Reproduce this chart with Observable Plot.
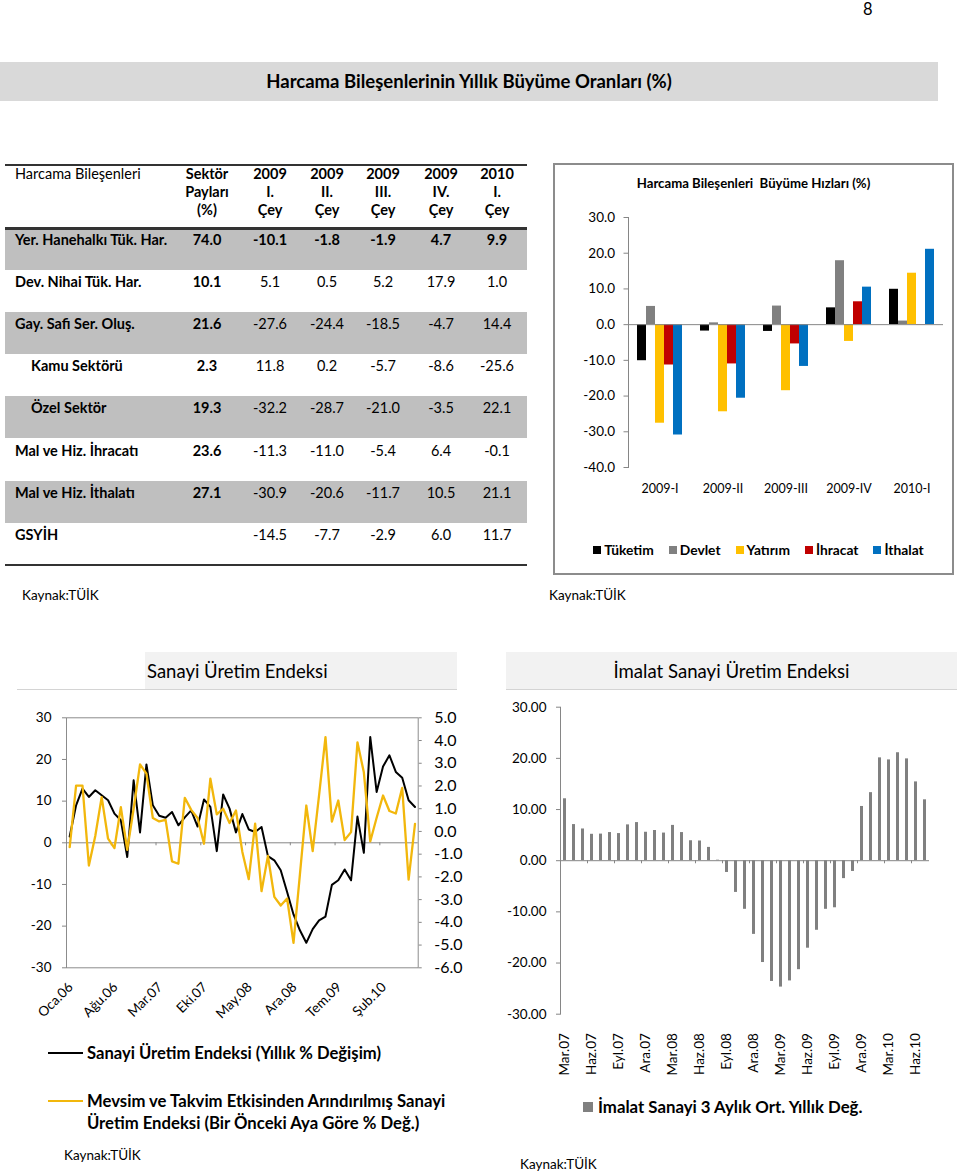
<!DOCTYPE html>
<html><head><meta charset="utf-8">
<script src="https://cdn.jsdelivr.net/npm/d3@7"></script>
<script src="https://cdn.jsdelivr.net/npm/@observablehq/plot@0.6"></script>
<style>
body{margin:0;background:#fff;font-family:Lato,"Open Sans",sans-serif;color:#000}
#page{position:relative;width:960px;height:1173px;overflow:hidden;background:#fff}
.a{position:absolute;white-space:nowrap}
svg{overflow:visible}
</style></head><body><div id="page"></div>
<script>
// ---------------- DATA ----------------
const rowLabels = ["Yer. Hanehalkı Tük. Har.","Dev. Nihai Tük. Har.","Gay. Safi Ser. Oluş.","Kamu Sektörü","Özel Sektör","Mal ve Hiz. İhracatı","Mal ve Hiz. İthalatı","GSYİH"];
const rowIndent = [0,0,0,1,1,0,0,0];
const sektorPaylari = [74.0,10.1,21.6,2.3,19.3,23.6,27.1,null];
const q2009_1 = [-10.1,5.1,-27.6,11.8,-32.2,-11.3,-30.9,-14.5];
const q2009_2 = [-1.8,0.5,-24.4,0.2,-28.7,-11.0,-20.6,-7.7];
const q2009_3 = [-1.9,5.2,-18.5,-5.7,-21.0,-5.4,-11.7,-2.9];
const q2009_4 = [4.7,17.9,-4.7,-8.6,-3.5,6.4,10.5,6.0];
const q2010_1 = [9.9,1.0,14.4,-25.6,22.1,-0.1,21.1,11.7];
const headerCols = [["Sektör","Payları","(%)"],["2009","I.","Çey"],["2009","II.","Çey"],["2009","III.","Çey"],["2009","IV.","Çey"],["2010","I.","Çey"]];

const quarters = ["2009-I","2009-II","2009-III","2009-IV","2010-I"];
const seriesNames = ["Tüketim","Devlet","Yatırım","İhracat","İthalat"];
const seriesColors = ["#000000","#808080","#FFC000","#C00000","#0070C0"];
const seriesRows = [0,1,2,5,6];

const monthAbbr = ["Oca","Şub","Mar","Nis","May","Haz","Tem","Ağu","Eyl","Eki","Kas","Ara"];
// Sanayi Üretim Endeksi, Oca.06 - Tem.10
const sanayiYillik = [1.5,9.0,13.0,11.0,12.6,11.4,10.2,7.0,5.4,-3.4,15.0,2.5,18.8,9.0,6.5,6.0,7.4,4.2,6.1,7.8,3.9,10.4,8.6,-2.0,11.6,8.2,2.5,6.9,3.2,2.6,3.8,-3.2,-4.2,-6.6,-11.8,-17.2,-21.0,-24.0,-20.7,-18.6,-17.7,-10.1,-9.0,-6.4,-9.0,6.3,-2.4,25.4,12.2,18.3,21.0,17.0,15.6,10.2,8.6];
const sanayiAylikMA = [-0.69,2.02,2.02,-1.5,-0.2,1.51,-0.32,-0.73,1.07,-0.81,1.0,2.95,2.54,0.59,0.44,0.51,-1.32,-1.42,1.48,0.95,0.59,-0.54,2.32,0.75,1.0,0.37,0.92,-0.9,-2.1,0.34,-2.63,-1.08,-2.88,-3.26,-2.95,-4.9,-1.9,1.14,-0.87,1.6,4.15,0.43,1.36,-0.38,-0.03,3.92,2.6,-0.44,0.6,1.58,0.9,0.79,1.92,-2.12,0.33];
// İmalat Sanayi 3 aylık ort. yıllık değ., Mar.07 - Tem.10
const imalat3Ay = [12.1,7.06,6.2,5.16,5.2,5.5,5.3,7.0,7.45,5.56,5.9,5.4,6.9,5.5,3.9,3.85,2.6,0.1,-2.3,-6.2,-9.5,-14.4,-19.9,-23.6,-24.7,-23.5,-21.3,-17.1,-13.6,-9.5,-9.2,-3.5,-2.1,10.6,13.3,20.1,19.7,21.1,19.9,15.4,11.9];

const sanayiMonths = d3.range(sanayiYillik.length).map(i => monthAbbr[i%12] + "." + String(6 + Math.floor(i/12)).padStart(2,"0"));
const imalatMonths = d3.range(imalat3Ay.length).map(i => monthAbbr[(i+2)%12] + "." + String(7 + Math.floor((i+2)/12)).padStart(2,"0"));

// ---------------- HELPERS ----------------
const page = document.getElementById("page");
function box(left, top, w, h, bg, extra) {
  const d = document.createElement("div");
  d.className = "a";
  Object.assign(d.style, {left: left+"px", top: top+"px", width: w+"px", height: h+"px", background: bg}, extra||{});
  page.appendChild(d); return d;
}
function txt(s, left, top, opts) {
  const d = document.createElement("div");
  d.className = "a";
  d.innerHTML = s;
  Object.assign(d.style, {left: left+"px", top: top+"px"}, opts||{});
  page.appendChild(d); return d;
}
function place(node, left, top) {
  const d = document.createElement("div");
  d.className = "a";
  Object.assign(d.style, {left: left+"px", top: top+"px"});
  d.appendChild(node); page.appendChild(d); return d;
}
const GRAY = "#868686";
const YELLOW = "#F2B70C";

// ---------------- PAGE HEADER ----------------
txt("8", 863, 1, {fontSize:"16.5px", lineHeight:"17px"});
box(0, 62, 938, 39, "#D9D9D9");
txt("Harcama Bileşenlerinin Yıllık Büyüme Oranları (%)", 0, 62, {width:"938px", textAlign:"center", lineHeight:"39px", fontSize:"18.5px", fontWeight:"700"});

// ---------------- TABLE ----------------
const colCenters = [207, 270, 327, 383, 441, 497];
const valueCols = [sektorPaylari, q2009_1, q2009_2, q2009_3, q2009_4, q2010_1];
const T0 = 228, RH = 42.1;
rowLabels.forEach((lab, r) => {
  const top = T0 + RH*r;
  if (r % 2 === 0 && r < 7) box(5, top, 522, RH, "#BFBFBF");
});
box(5, 164, 522, 2, "#333");
box(5, 227, 522, 2.5, "#333");
box(5, 564, 522, 2, "#333");
const tf = {fontSize:"14.5px", lineHeight:"18px"};
txt("Harcama Bileşenleri", 15, 165, tf);
headerCols.forEach((lines, c) => {
  txt(lines.join("<br>"), colCenters[c]-35, 165, Object.assign({width:"70px", textAlign:"center", fontWeight:"700"}, tf));
});
rowLabels.forEach((lab, r) => {
  const top = T0 + RH*r + 3;
  txt(lab, rowIndent[r] ? 31 : 15, top, Object.assign({fontWeight:"700"}, tf));
  valueCols.forEach((col, c) => {
    const v = col[r];
    if (v == null) return;
    txt(v.toFixed(1), colCenters[c]-30, top, Object.assign({width:"60px", textAlign:"center", fontWeight: (c===0 || r===0) ? "700" : "400"}, tf));
  });
});
txt("Kaynak:TÜİK", 22, 587, {fontSize:"13.5px"});

// ---------------- TOP RIGHT BAR CHART ----------------
box(553, 163, 401, 412, "transparent", {border:"2px solid #8C8C8C", boxSizing:"border-box"});
txt("Harcama Bileşenleri&nbsp; Büyüme Hızları (%)", 553, 175, {width:"401px", textAlign:"center", fontSize:"13.2px", fontWeight:"700"});
const barData = seriesNames.flatMap((s, k) => quarters.map((q, j) => ({q, s, v: valueCols[j+1][seriesRows[k]]})));
const topChart = Plot.plot({
  width: 392, height: 310, marginLeft: 67, marginRight: 8, marginTop: 17, marginBottom: 43,
  fx: {domain: quarters, padding: 0, axis: null, label: null},
  x: {domain: seriesNames, paddingInner: 0, paddingOuter: 0.67, axis: null},
  y: {domain: [-40, 30], axis: null, label: null},
  color: {domain: seriesNames, range: seriesColors},
  style: {fontFamily: "Lato, sans-serif", fontSize: "13.5px", color: "#000", background: "transparent"},
  marks: [
    Plot.barY(barData, {fx: "q", x: "s", y: "v", fill: "s"}),
    Plot.ruleY([0], {stroke: GRAY}),
    Plot.frame({anchor: "left", stroke: GRAY, facetAnchor: "left"}),
    Plot.axisY({ticks: d3.range(-40, 31, 10), tickFormat: d => d.toFixed(1), tickSize: 4.5, tickPadding: 9, stroke: GRAY, fontSize: 13.5, label: null}),
    Plot.axisFx({anchor: "bottom", tickSize: 0, tickPadding: 17, fontSize: 12.5, label: null})
  ]
});
place(topChart, 560, 200);
// legend
const leg = document.createElement("div");
leg.className = "a";
Object.assign(leg.style, {left:"558px", top:"541px", width:"401px", display:"flex", justifyContent:"center", gap:"15px", fontSize:"13.8px", fontWeight:"700", lineHeight:"18px"});
seriesNames.forEach((s, k) => {
  const it = document.createElement("span");
  it.style.display = "flex"; it.style.alignItems = "center"; it.style.gap = "3px";
  it.innerHTML = `<span style="display:inline-block;width:8px;height:8px;background:${seriesColors[k]}"></span>${s}`;
  leg.appendChild(it);
});
page.appendChild(leg);
txt("Kaynak:TÜİK", 549, 587, {fontSize:"13.5px"});

// ---------------- SECTION TITLES ----------------
box(145, 652, 312, 38, "#F2F2F2");
box(17, 689, 440, 1, "#D4D4D4");
txt("Sanayi Üretim Endeksi", 147, 652, {lineHeight:"38px", fontSize:"18.5px"});
box(506, 652, 451, 38, "#F2F2F2");
box(506, 689, 451, 1, "#D4D4D4");
txt("İmalat Sanayi Üretim Endeksi", 506, 652, {width:"451px", textAlign:"center", lineHeight:"38px", fontSize:"18.6px"});

// ---------------- LINE CHART (two axes, two overlaid plots) ----------------
const LW = 480, LH = 340, LM = {marginLeft: 66, marginRight: 62.3, marginTop: 17.3, marginBottom: 72.7};
const nS = sanayiYillik.length;
const xDom = [-0.5, nS - 0.5];
const boundaries = d3.range(7, nS, 7).map(k => k - 0.5);
const labelIdx = d3.range(0, nS, 7);
const tickLen = 3 * 60 / (LH - LM.marginTop - LM.marginBottom);
const blackChart = Plot.plot({
  width: LW, height: LH, ...LM,
  x: {domain: xDom, axis: null},
  y: {domain: [-30, 30], axis: null},
  style: {fontFamily: "Lato, sans-serif", color: "#000", background: "transparent"},
  marks: [
    Plot.frame({stroke: "#8C8C8C"}),
    Plot.ruleY([0], {stroke: GRAY}),
    Plot.ruleX(boundaries, {y1: 0, y2: -tickLen, stroke: GRAY}),
    Plot.lineY(sanayiYillik, {x: (d, i) => i, y: d => d, stroke: "#000", strokeWidth: 2}),
    Plot.axisY({ticks: d3.range(-30, 31, 10), tickFormat: d => String(d), tickSize: 4, tickPadding: 11, stroke: GRAY, fontSize: 13.5, label: null}),
    Plot.axisX({ticks: labelIdx, tickFormat: i => sanayiMonths[i], tickRotate: -45, tickSize: 0, tickPadding: 17, dx: 1, fontSize: 13.5, label: null})
  ]
});
const yellowChart = Plot.plot({
  width: LW, height: LH, ...LM,
  x: {domain: xDom, axis: null},
  y: {domain: [-6, 5], axis: null},
  style: {fontFamily: "Lato, sans-serif", color: "#000", background: "transparent"},
  marks: [
    Plot.lineY(sanayiAylikMA, {x: (d, i) => i, y: d => d, stroke: YELLOW, strokeWidth: 2.3}),
    Plot.axisY({anchor: "right", ticks: d3.range(-6, 5.5, 1), tickFormat: d => d.toFixed(1), tickSize: 3, tickPadding: 13, stroke: GRAY, fontSize: 16, label: null})
  ]
});
place(blackChart, 0, 700);
place(yellowChart, 0, 700);
box(48, 1052, 35, 2, "#000");
txt("Sanayi Üretim Endeksi (Yıllık % Değişim)", 87, 1042, {fontSize:"16.6px", fontWeight:"700", lineHeight:"22px"});
box(48, 1100, 35, 2, YELLOW);
txt("Mevsim ve Takvim Etkisinden Arındırılmış Sanayi<br>Üretim Endeksi (Bir Önceki Aya Göre % Değ.)", 87, 1090, {fontSize:"16.7px", fontWeight:"700", lineHeight:"22px"});
txt("Kaynak:TÜİK", 64, 1147, {fontSize:"13.5px"});

// ---------------- BOTTOM RIGHT BAR CHART ----------------
const bottomChart = Plot.plot({
  width: 450, height: 390, marginLeft: 60, marginRight: 21, marginTop: 16.7, marginBottom: 66.3,
  x: {domain: imalatMonths, paddingInner: 0.62, paddingOuter: 0.31, axis: null},
  y: {domain: [-30, 30], axis: null},
  style: {fontFamily: "Lato, sans-serif", color: "#000", background: "transparent"},
  marks: [
    Plot.barY(imalat3Ay, {x: (d, i) => imalatMonths[i], y: d => d, fill: "#808080"}),
    Plot.ruleY([0], {stroke: GRAY}),
    Plot.frame({anchor: "left", stroke: GRAY}),
    Plot.ruleX(imalatMonths.filter((d, i) => i > 0 && i % 3 === 0), {x: d => d, y1: 0, y2: -0.6, dx: -4.5, stroke: GRAY}),
    Plot.axisY({ticks: d3.range(-30, 31, 10), tickFormat: d => d.toFixed(2), tickSize: 4, tickPadding: 10, stroke: GRAY, fontSize: 13.5, label: null}),
    Plot.axisX({ticks: imalatMonths.filter((d, i) => i % 3 === 0), tickRotate: -90, tickSize: 0, tickPadding: 19, fontSize: 13.5, label: null})
  ]
});
place(bottomChart, 500, 690);
box(583, 1102, 10, 10, "#808080");
txt("İmalat Sanayi 3 Aylık Ort. Yıllık Değ.", 598, 1096, {fontSize:"16.8px", fontWeight:"700", lineHeight:"22px"});
txt("Kaynak:TÜİK", 520, 1156, {fontSize:"13.5px"});
</script></body></html>
